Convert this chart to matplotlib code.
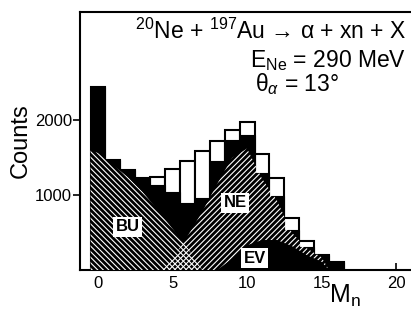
import numpy as np
import matplotlib.pyplot as plt

plt.rcParams["font.family"] = ["Liberation Sans", "DejaVu Sans"]
plt.rcParams["hatch.linewidth"] = 0.8
plt.rcParams["mathtext.fontset"] = "custom"
plt.rcParams["mathtext.rm"] = "Liberation Sans"
plt.rcParams["mathtext.it"] = "Liberation Sans:italic"

# neutron multiplicity bins
mn = np.arange(0, 17)
# total (open outline) and filled (coincident) counts per bin
total = [2440, 1470, 1340, 1230, 1240, 1350, 1460, 1590, 1720, 1870, 1977,
         1545, 1227, 693, 387, 200, 110]
filled = [2440, 1470, 1340, 1230, 1140, 1040, 900, 960, 1450, 1733, 1800,
          1293, 990, 533, 310, 200, 110]

# hatched components (values at bin centres)
bu_x = [-0.5, 0, 1, 2, 3, 4, 5, 6, 7]
bu_top = [1600, 1560, 1400, 1240, 1040, 800, 550, 300, 0]
ne_x = [4.3, 5, 6, 7, 8, 9, 10, 11, 12, 13, 14, 15, 15.5]
ne_top = [0, 150, 450, 780, 1150, 1500, 1620, 1220, 930, 500, 290, 170, 0]
ne_low = [0, 0, 0, 0, 0, 150, 330, 400, 400, 320, 200, 110, 0]

fig = plt.figure(figsize=(4.11, 3.10), dpi=100)
ax = fig.add_axes([0.195, 0.129, 0.805, 0.832])

ax.bar(mn, total, width=1.0, facecolor="white", edgecolor="black", lw=1.5, zorder=2)
ax.bar(mn, filled, width=1.0, facecolor="black", edgecolor="black", lw=0.8, zorder=3)

ax.fill_between(bu_x, 0, bu_top, facecolor="none", edgecolor="white",
                hatch="\\\\\\\\\\\\", lw=0, zorder=4)
ax.fill_between(ne_x, ne_low, ne_top, facecolor="none", edgecolor="white",
                hatch="//////", lw=0, zorder=4)

box = dict(boxstyle="square,pad=0.15", facecolor="white", edgecolor="none")
ax.text(2.0, 580, "BU", fontsize=12, fontweight="bold", ha="center", va="center", bbox=box, zorder=6)
ax.text(9.2, 900, "NE", fontsize=12, fontweight="bold", ha="center", va="center", bbox=box, zorder=6)
ax.text(10.5, 160, "EV", fontsize=12, fontweight="bold", ha="center", va="center", bbox=box, zorder=6)

ax.set_xlim(-1.2, 21.0)
ax.set_ylim(0, 3440)
ax.set_xticks([0, 5, 10, 15, 20])
ax.set_yticks([1000, 2000])
ax.tick_params(axis="x", direction="in", length=5, width=1.2, labelsize=12, pad=4)
ax.tick_params(axis="y", direction="out", length=5, width=1.2, labelsize=12, pad=1)
for s in ["left", "top", "bottom"]:
    ax.spines[s].set_linewidth(1.5)
ax.spines["right"].set_visible(False)

ax.set_ylabel("Counts", fontsize=17, labelpad=2)
fig.text(0.84, 0.045, "M$_\\mathrm{n}$", fontsize=18, ha="center", va="center")

ax.text(0.985, 0.975, "$^{20}$Ne + $^{197}$Au \u2192 \u03b1 + xn + X", transform=ax.transAxes,
        fontsize=16.5, ha="right", va="top")
ax.text(0.985, 0.86, "E$_{\\mathrm{Ne}}$ = 290 MeV", transform=ax.transAxes,
        fontsize=16.5, ha="right", va="top")
ax.text(0.53, 0.77, "\u03b8$_{\\alpha}$ = 13\u00b0", transform=ax.transAxes,
        fontsize=16.5, ha="left", va="top")

fig.savefig("out.png", dpi=100)
